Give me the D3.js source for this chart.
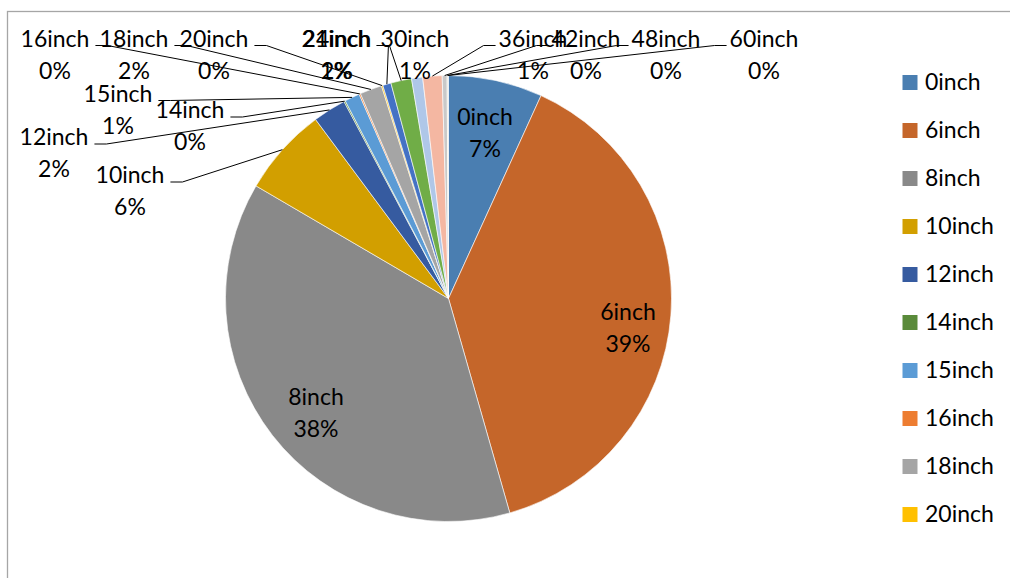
<!DOCTYPE html>
<html>
<head>
<meta charset="utf-8">
<script src="https://cdn.jsdelivr.net/npm/d3@7"></script>
<style>
  html, body { margin: 0; padding: 0; background: #fff; }
  svg { display: block; }
  text { font-family: Lato, "Open Sans", sans-serif; fill: #000; }
</style>
</head>
<body>
<svg id="chart" width="1010" height="578"></svg>
<script>
// Share of each size class (percent)
const categories = ["0inch","6inch","8inch","10inch","12inch","14inch","15inch","16inch",
                    "18inch","20inch","21inch","24inch","30inch","36inch","42inch","48inch","60inch"];
const shares = [6.8, 38.7, 37.8, 6.4, 2.4, 0.1, 1.1, 0.1, 1.6, 0.1, 0.6, 1.5, 0.8, 1.4, 0.35, 0.05, 0.05];
const colors = ["#4A7EB1","#C5662A","#898989","#D29F00","#365BA0","#5A8B3A","#5B9BD5","#ED7D31",
                "#A5A5A5","#FFC000","#4472C4","#70AD47","#AFC7E8","#F4B7A2","#C9C9C9","#FFD966","#8FAADC"];
// Only the first ten entries fit in the legend box
const legendCount = 10;

// Label placement: [centre x, first-line baseline, inside slice?]
const labelLayout = {
  "0inch":  [485, 125, true],
  "6inch":  [628, 320, true],
  "8inch":  [316, 405, true],
  "10inch": [130, 183, false],
  "12inch": [54, 145, false],
  "14inch": [190, 118, false],
  "15inch": [118, 101.5, false],
  "16inch": [55, 46.5, false],
  "18inch": [134, 46.5, false],
  "20inch": [214, 46.5, false],
  "21inch": [336, 46.5, false],
  "24inch": [337, 46.5, false],
  "30inch": [415, 46.5, false],
  "36inch": [533, 46.5, false],
  "42inch": [586, 46.5, false],
  "48inch": [666, 46.5, false],
  "60inch": [764, 46.5, false]
};
const noLeader = new Set(["30inch"]);

const svg = d3.select("#chart");
const W = 1010, H = 578;
const cx = 448.5, cy = 298.5, R = 223;
const fontSize = 23, lineGap = 32;

// chart area frame (only its top and left edges are inside the view)
svg.append("rect")
  .attr("x", 7.5).attr("y", 11.5)
  .attr("width", W + 20).attr("height", H + 20)
  .attr("fill", "none").attr("stroke", "#a6a6a6").attr("stroke-width", 1.3);

const data = categories.map((c, i) => ({ cat: c, value: shares[i], color: colors[i] }));
const total = d3.sum(data, d => d.value);

const pie = d3.pie().sort(null).value(d => d.value).startAngle(0).endAngle(2 * Math.PI);
const arcs = pie(data);
const arc = d3.arc().innerRadius(0).outerRadius(R);

const g = svg.append("g").attr("transform", `translate(${cx},${cy})`);
g.selectAll("path.slice")
  .data(arcs)
  .join("path")
  .attr("class", "slice")
  .attr("d", arc)
  .attr("fill", d => d.data.color)
  .attr("stroke", "#fff")
  .attr("stroke-width", 0.6);

// data labels
const labelG = svg.append("g");
const leaderG = svg.append("g");

arcs.forEach(a => {
  const cat = a.data.cat;
  const [lx, ly, inside] = labelLayout[cat];
  const pct = Math.round(a.data.value / total * 100) + "%";
  const t = labelG.append("text")
    .attr("text-anchor", "middle")
    .attr("font-size", fontSize);
  t.append("tspan").attr("x", lx).attr("y", ly).text(cat);
  t.append("tspan").attr("x", lx).attr("y", ly + lineGap).text(pct);

  if (inside || noLeader.has(cat)) return;

  // leader line: short horizontal stub next to the label, then to the slice rim
  const mid = (a.startAngle + a.endAngle) / 2;
  const ax = cx + R * Math.sin(mid);
  const ay = cy - R * Math.cos(mid);
  const w = t.select("tspan").node().getComputedTextLength();
  const yLine = ly - 1;
  let pts;
  if (lx < ax - w / 2) {
    const x0 = lx + w / 2 + 6;
    pts = [[x0, yLine], [x0 + 12, yLine], [ax, ay]];
  } else {
    const x0 = lx - w / 2 - 3;
    pts = [[x0, yLine], [x0 - 12, yLine], [ax, ay]];
  }
  leaderG.append("path")
    .attr("d", d3.line()(pts))
    .attr("fill", "none")
    .attr("stroke", "#000")
    .attr("stroke-width", 1);
});

// legend
const legend = svg.append("g");
data.slice(0, legendCount).forEach((d, i) => {
  const y = 90 + i * 48;
  legend.append("rect")
    .attr("x", 902.5).attr("y", y - 15)
    .attr("width", 15).attr("height", 15)
    .attr("fill", d.color);
  legend.append("text")
    .attr("x", 925).attr("y", y)
    .attr("font-size", fontSize)
    .text(d.cat);
});
</script>
</body>
</html>
